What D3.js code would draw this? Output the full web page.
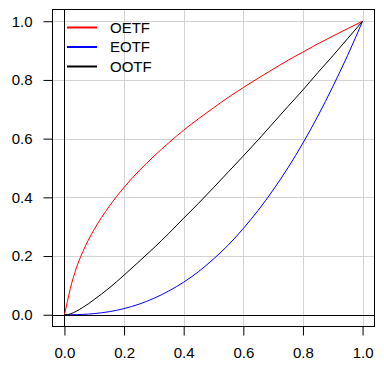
<!DOCTYPE html>
<html>
<head>
<meta charset="utf-8">
<script src="https://cdn.jsdelivr.net/npm/d3@7"></script>
<style>
  body { margin: 0; background: #fff; }
  text { font-family: "Liberation Sans", Arial, sans-serif; }
</style>
</head>
<body>
<div id="chart"></div>
<script>
// signal levels
let xs = [0, 0.01, 0.02, 0.04, 0.06, 0.08, 0.1, 0.15, 0.2, 0.25, 0.3, 0.35, 0.4, 0.45, 0.5,
          0.55, 0.6, 0.65, 0.7, 0.75, 0.8, 0.85, 0.9, 0.95, 1];
let oetf = [0, 0.045, 0.090, 0.159, 0.211, 0.254, 0.291, 0.369, 0.434, 0.490, 0.540, 0.586, 0.629, 0.668, 0.705,
            0.741, 0.774, 0.806, 0.837, 0.867, 0.895, 0.923, 0.949, 0.975, 1];
let eotf = [0, 0, 0.0001, 0.0004, 0.0012, 0.0023, 0.004, 0.0105, 0.021, 0.036, 0.056, 0.081, 0.111, 0.147, 0.190,
            0.238, 0.294, 0.356, 0.425, 0.501, 0.585, 0.677, 0.777, 0.884, 1];
let ootf = [0, 0.0006, 0.0031, 0.012, 0.024, 0.037, 0.052, 0.091, 0.135, 0.181, 0.228, 0.277, 0.329, 0.380, 0.433,
            0.487, 0.541, 0.596, 0.653, 0.710, 0.766, 0.825, 0.882, 0.941, 1];
let ticks = [0, 0.2, 0.4, 0.6, 0.8, 1.0];
let seriesNames = ["OETF", "EOTF", "OOTF"];
let seriesColors = ["#ff0000", "#0000ff", "#000000"];

let W = 384, H = 384;
let box = { left: 52.5, top: 9.5, right: 374.5, bottom: 326.5 };

let svg = d3.select("#chart").append("svg")
     .attr("width", W)
     .attr("height", H);

// R style: 4% padding on each side
let x = d3.scaleLinear().domain([-0.04, 1.04]).range([box.left, box.right]);
let y = d3.scaleLinear().domain([-0.04, 1.04]).range([box.bottom, box.top]);

// grid
let grid = svg.append("g").attr("stroke", "#d3d3d3").attr("stroke-width", 1);
ticks.forEach(t => {
     let px = Math.round(x(t)) + 0.5;
     let py = Math.round(y(t)) + 0.5;
     grid.append("line").attr("x1", px).attr("x2", px).attr("y1", box.top).attr("y2", box.bottom);
     grid.append("line").attr("x1", box.left).attr("x2", box.right).attr("y1", py).attr("y2", py);
});

// axes through zero
let zx = Math.round(x(0)) + 0.5, zy = Math.round(y(0)) + 0.5;
svg.append("line").attr("x1", zx).attr("x2", zx).attr("y1", box.top).attr("y2", box.bottom)
     .attr("stroke", "#000");
svg.append("line").attr("x1", box.left).attr("x2", box.right).attr("y1", zy).attr("y2", zy)
     .attr("stroke", "#000");

// curves
let allSeries = [oetf, eotf, ootf];
allSeries.forEach((vals, i) => {
     let line = d3.line()
          .x((d, j) => x(xs[j]))
          .y(d => y(d))
          .curve(d3.curveMonotoneX);
     svg.append("path")
          .datum(vals)
          .attr("d", line)
          .attr("fill", "none")
          .attr("stroke", seriesColors[i])
          .attr("stroke-width", 1);
});

// frame
svg.append("rect")
     .attr("x", box.left).attr("y", box.top)
     .attr("width", box.right - box.left).attr("height", box.bottom - box.top)
     .attr("fill", "none").attr("stroke", "#000");

// bottom axis
let xAxis = d3.axisBottom(x).tickValues(ticks).tickSize(9).tickPadding(12)
     .tickFormat(d3.format(".1f"));
let gx = svg.append("g").attr("transform", `translate(0,${box.bottom})`).call(xAxis);
gx.select(".domain").remove();
gx.selectAll("text").attr("font-size", 15).attr("fill", "#000")
     .attr("font-family", "'Liberation Sans', Arial, sans-serif");

// left axis
let yAxis = d3.axisLeft(y).tickValues(ticks).tickSize(9).tickPadding(11)
     .tickFormat(d3.format(".1f"));
let gy = svg.append("g").attr("transform", `translate(${box.left},0)`).call(yAxis);
gy.select(".domain").remove();
gy.selectAll("text").attr("font-size", 15).attr("fill", "#000")
     .attr("font-family", "'Liberation Sans', Arial, sans-serif");

// legend
let leg = svg.append("g");
seriesNames.forEach((name, i) => {
     let ly = 27.5 + i * 19.5;
     leg.append("line")
          .attr("x1", 67).attr("x2", 97)
          .attr("y1", ly).attr("y2", ly)
          .attr("stroke", seriesColors[i]).attr("stroke-width", 2);
     leg.append("text")
          .attr("x", 110).attr("y", ly)
          .attr("dy", "0.36em")
          .attr("font-size", 15)
          .text(name);
});
</script>
</body>
</html>
